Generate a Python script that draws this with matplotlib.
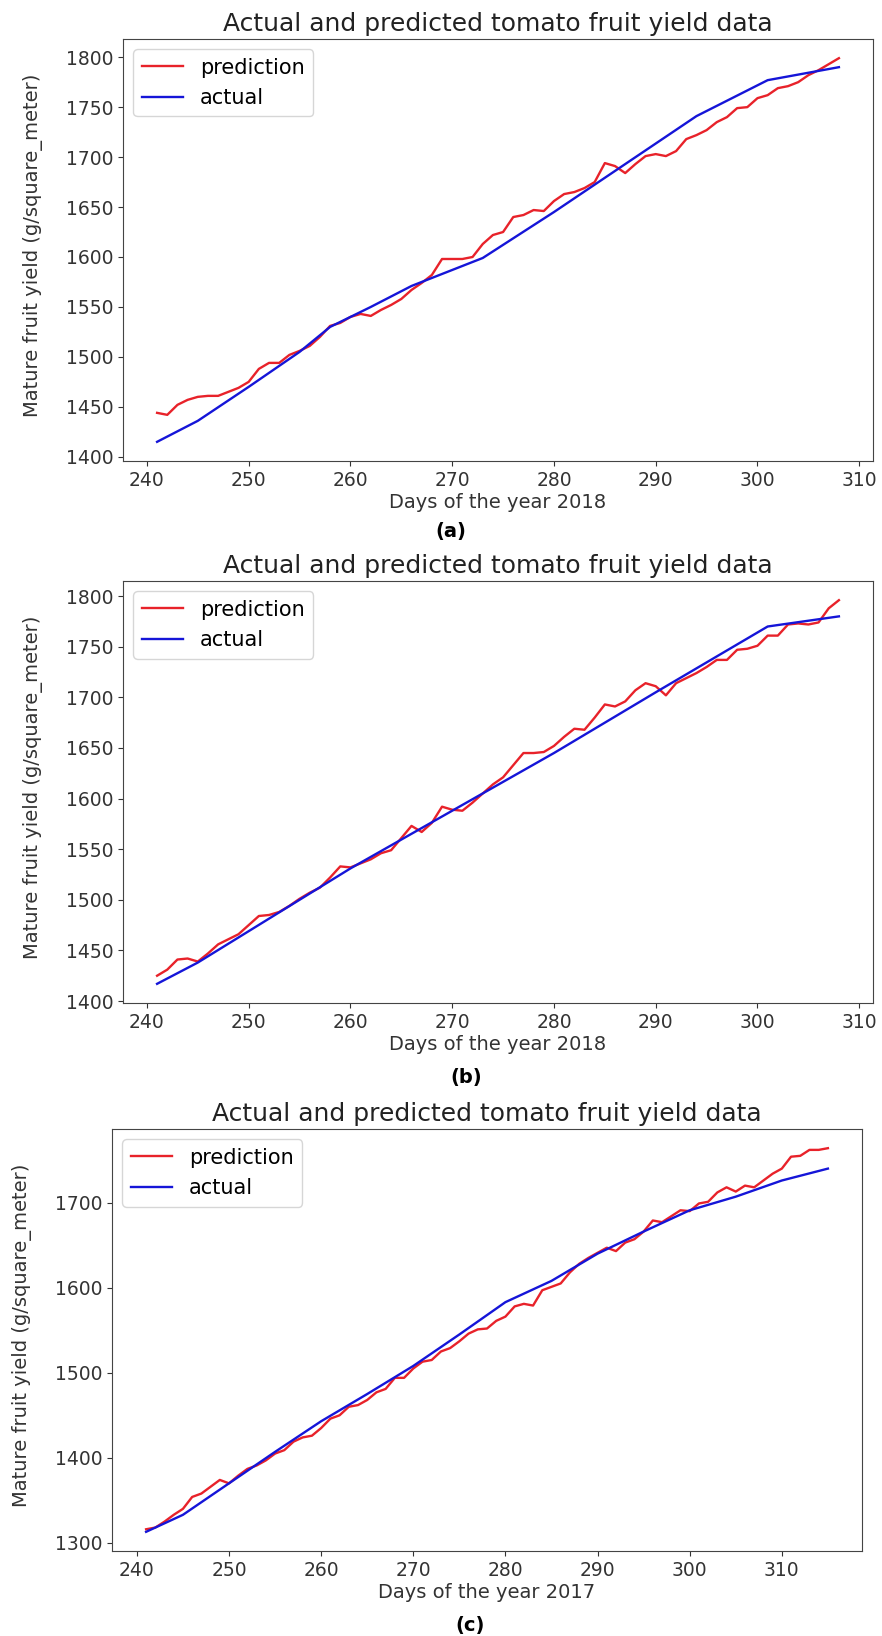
import numpy as np
import matplotlib
matplotlib.use('Agg')
import matplotlib.pyplot as plt

# Days of the year on the x axis
DAYS_2018 = list(range(241, 309))
DAYS_2017 = list(range(241, 316))

# (a) prediction
pred_a = [1444, 1442, 1452, 1457, 1460, 1461, 1461, 1465, 1469, 1475,
          1488, 1494, 1494, 1502, 1506, 1511, 1520, 1531, 1534, 1540,
          1543, 1541, 1547, 1552, 1558, 1567, 1574, 1582, 1598, 1598,
          1598, 1600, 1613, 1622, 1625, 1640, 1642, 1647, 1646, 1656,
          1663, 1665, 1669, 1675, 1694, 1691, 1684, 1693, 1701, 1703,
          1701, 1706, 1718, 1722, 1727, 1735, 1740, 1749, 1750, 1759,
          1762, 1769, 1771, 1775, 1782, 1787, 1793, 1799]
# (a) actual, the bends of the line
actual_a_days = [241, 245, 250, 255, 258, 262, 266, 270, 273, 280, 287, 294, 301, 308]
actual_a = [1415, 1436, 1470, 1505, 1530, 1550, 1571, 1587, 1599, 1645, 1693, 1741, 1777, 1790]

# (b)
pred_b = [1425, 1431, 1441, 1442, 1439, 1447, 1456, 1461, 1466, 1475,
          1484, 1485, 1488, 1494, 1501, 1507, 1512, 1522, 1533, 1532,
          1536, 1540, 1546, 1549, 1561, 1573, 1567, 1576, 1592, 1589,
          1588, 1596, 1605, 1614, 1621, 1633, 1645, 1645, 1646, 1652,
          1661, 1669, 1668, 1680, 1693, 1691, 1696, 1707, 1714, 1711,
          1702, 1714, 1719, 1724, 1730, 1737, 1737, 1747, 1748, 1751,
          1761, 1761, 1772, 1773, 1772, 1774, 1788, 1796]
actual_b_days = [241, 245, 260, 270, 280, 290, 301, 308]
actual_b = [1417, 1438, 1531, 1588, 1645, 1705, 1770, 1780]

# (c)
pred_c = [1316, 1318, 1325, 1333, 1340, 1354, 1358, 1366, 1374, 1370,
          1379, 1387, 1391, 1397, 1405, 1409, 1419, 1424, 1426, 1435,
          1446, 1450, 1460, 1462, 1468, 1477, 1481, 1494, 1494, 1505,
          1513, 1515, 1525, 1529, 1537, 1546, 1551, 1552, 1561, 1566,
          1578, 1581, 1579, 1597, 1601, 1605, 1618, 1628, 1635, 1641,
          1647, 1643, 1653, 1657, 1666, 1679, 1677, 1684, 1691, 1690,
          1699, 1701, 1712, 1718, 1713, 1720, 1718, 1726, 1734, 1740,
          1754, 1755, 1762, 1762, 1764]
actual_c_days = [241, 245, 250, 255, 260, 265, 270, 275, 280, 285, 290, 295, 300, 305, 310, 315]
actual_c = [1313, 1333, 1370, 1407, 1443, 1475, 1508, 1545, 1583, 1608, 1640, 1666, 1691, 1707, 1726, 1740]

TITLE = 'Actual and predicted tomato fruit yield data'
YLABEL = 'Mature fruit yield (g/square_meter)'

W, H = 882, 1636
fig = plt.figure(figsize=(W / 100, H / 100), dpi=100)


def box(left, top, right, bottom):
    # pixel box -> figure fraction
    return [left / W, 1 - bottom / H, (right - left) / W, (bottom - top) / H]


def panel(rect, days, pred, adays, actual, year, ticks):
    ax = fig.add_axes(rect)
    ax.plot(days, pred, color='#e8222a', lw=1.7, label='prediction')
    ax.plot(adays, actual, color='#1515d8', lw=1.7, label='actual')
    ax.set_title(TITLE, fontsize=18, color='#222222', pad=6)
    ax.set_xlabel('Days of the year %d' % year, fontsize=14, color='#333333', labelpad=2)
    ax.set_ylabel(YLABEL, fontsize=14, color='#333333')
    ax.yaxis.set_label_coords(-0.106, 0.51)
    ax.set_yticks(ticks)
    ax.tick_params(labelsize=13.5, colors='#333333')
    for s in ax.spines.values():
        s.set_color('#444444')
    ax.legend(loc='upper left', fontsize=15)
    return ax


panel(box(123, 39, 873, 461), DAYS_2018, pred_a, actual_a_days, actual_a, 2018,
      [1400, 1450, 1500, 1550, 1600, 1650, 1700, 1750, 1800])
panel(box(123, 581, 873, 1003), DAYS_2018, pred_b, actual_b_days, actual_b, 2018,
      [1400, 1450, 1500, 1550, 1600, 1650, 1700, 1750, 1800])
panel(box(112, 1129, 862, 1551), DAYS_2017, pred_c, actual_c_days, actual_c, 2017,
      [1300, 1400, 1500, 1600, 1700])

fig.text(451 / W, 1 - 532 / H, '(a)', ha='center', va='center', fontsize=14, fontweight='bold')
fig.text(466 / W, 1 - 1078 / H, '(b)', ha='center', va='center', fontsize=14, fontweight='bold')
fig.text(470 / W, 1 - 1625 / H, '(c)', ha='center', va='center', fontsize=14, fontweight='bold')

fig.savefig('out.png', dpi=100)
